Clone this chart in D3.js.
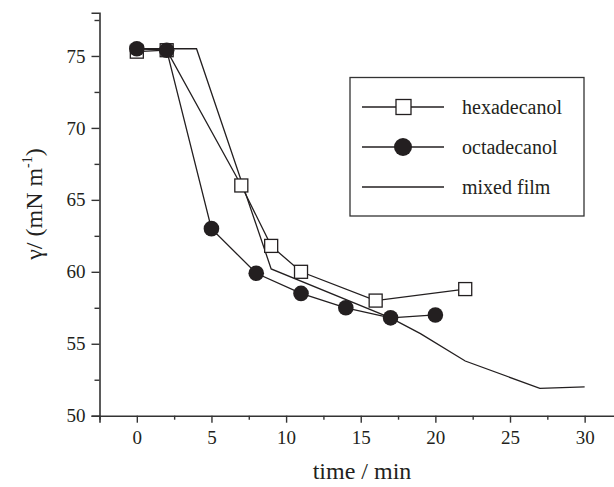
<!DOCTYPE html>
<html>
<head>
<meta charset="utf-8">
<script src="https://cdn.jsdelivr.net/npm/d3@7"></script>
<style>
  body { margin: 0; background: #fff; }
  text { font-family: "Liberation Serif", "Times New Roman", serif; fill: #231f20; }
</style>
</head>
<body>
<svg width="614" height="487"></svg>
<script>
// data
var hexaTime = [0, 2, 7, 9, 11, 16, 22],
    hexaGamma = [75.3, 75.4, 66.0, 61.8, 60.0, 58.0, 58.8];
var octaTime = [0, 2, 5, 8, 11, 14, 17, 20],
    octaGamma = [75.5, 75.4, 63.0, 59.9, 58.5, 57.5, 56.8, 57.0];
var mixTime = [0, 2, 4, 9, 17, 19, 22, 27, 30],
    mixGamma = [75.5, 75.5, 75.5, 60.2, 56.8, 55.7, 53.8, 51.9, 52.0];
var xTicks = [0, 5, 10, 15, 20, 25, 30],
    yTicks = [50, 55, 60, 65, 70, 75];
var legendNames = ["hexadecanol", "octadecanol", "mixed film"];

var svg = d3.select("svg");
var ink = "#231f20",
    serif = "Liberation Serif, Times New Roman, serif";

var xScale = d3.scaleLinear().domain([-2.5, 32]).range([99.5, 614.5]),
    yScale = d3.scaleLinear().domain([50, 78]).range([415.7, 12.8]);

var xMinor = d3.range(-2.5, 32, 2.5).filter(function(d) { return xTicks.indexOf(d) < 0; }),
    yMinor = d3.range(52.5, 78, 5);

// x axis
var gx = svg.append("g").attr("transform", "translate(0,415.7)");
gx.call(d3.axisBottom(xScale).tickValues(xTicks).tickSize(7).tickPadding(8).tickFormat(d3.format("d")));
gx.append("g").call(d3.axisBottom(xScale).tickValues(xMinor).tickSize(4).tickFormat(""))
  .select(".domain").remove();

// y axis
var gy = svg.append("g").attr("transform", "translate(99.5,0)");
gy.call(d3.axisLeft(yScale).tickValues(yTicks).tickSize(8).tickPadding(6).tickFormat(d3.format("d")));
gy.append("g").call(d3.axisLeft(yScale).tickValues(yMinor).tickSize(5).tickFormat(""))
  .select(".domain").remove();

gx.attr("font-family", serif).attr("font-size", 19);
gy.attr("font-family", serif).attr("font-size", 19);
svg.selectAll(".domain").attr("stroke", "#333").attr("stroke-width", 1.6);
svg.selectAll(".tick line").attr("stroke", "#333").attr("stroke-width", 1.4);
svg.selectAll(".tick text").attr("fill", ink);

// axis titles
svg.append("text")
   .attr("x", 362).attr("y", 479)
   .attr("text-anchor", "middle")
   .attr("font-size", "24px")
   .text("time / min");

var yt = svg.append("text")
   .attr("transform", "translate(42,204) rotate(-90)")
   .attr("text-anchor", "middle")
   .attr("font-size", "24px");
yt.append("tspan").text("\u03b3/ (mN m");
yt.append("tspan").attr("font-size", "14px").attr("dy", "-10").text("-1");
yt.append("tspan").attr("dy", "10").text(")");

// lines
var line = d3.line()
    .x(function(d) { return xScale(d[0]); })
    .y(function(d) { return yScale(d[1]); });

var hexa = d3.zip(hexaTime, hexaGamma),
    octa = d3.zip(octaTime, octaGamma),
    mix = d3.zip(mixTime, mixGamma);

[mix, hexa, octa].forEach(function(s) {
  svg.append("path").datum(s)
     .attr("d", line)
     .attr("fill", "none")
     .attr("stroke", ink)
     .attr("stroke-width", 1.3);
});

// markers
svg.selectAll(".sq").data(hexa).enter().append("rect")
   .attr("class", "sq")
   .attr("x", function(d) { return xScale(d[0]) - 6.5; })
   .attr("y", function(d) { return yScale(d[1]) - 6.5; })
   .attr("width", 13).attr("height", 13)
   .attr("fill", "#fff").attr("stroke", ink).attr("stroke-width", 1.3);

svg.selectAll(".dot").data(octa).enter().append("circle")
   .attr("class", "dot")
   .attr("cx", function(d) { return xScale(d[0]); })
   .attr("cy", function(d) { return yScale(d[1]); })
   .attr("r", 7.8)
   .attr("fill", ink);

// legend
var lg = svg.append("g");
lg.append("rect")
  .attr("x", 350).attr("y", 77.5).attr("width", 234).attr("height", 138.5)
  .attr("fill", "#fff").attr("stroke", "#333").attr("stroke-width", 1.3);

var rowY = [107, 147, 187];
legendNames.forEach(function(name, i) {
  lg.append("line")
    .attr("x1", 362).attr("x2", 444).attr("y1", rowY[i]).attr("y2", rowY[i])
    .attr("stroke", ink).attr("stroke-width", 1.3);
  if (i === 0) {
    lg.append("rect").attr("x", 396).attr("y", rowY[i] - 7.5).attr("width", 15).attr("height", 15)
      .attr("fill", "#fff").attr("stroke", ink).attr("stroke-width", 1.3);
  } else if (i === 1) {
    lg.append("circle").attr("cx", 403).attr("cy", rowY[i]).attr("r", 9).attr("fill", ink);
  }
  lg.append("text")
    .attr("x", 462).attr("y", rowY[i] + 6.5)
    .attr("font-size", "20px")
    .text(name);
});
</script>
</body>
</html>
